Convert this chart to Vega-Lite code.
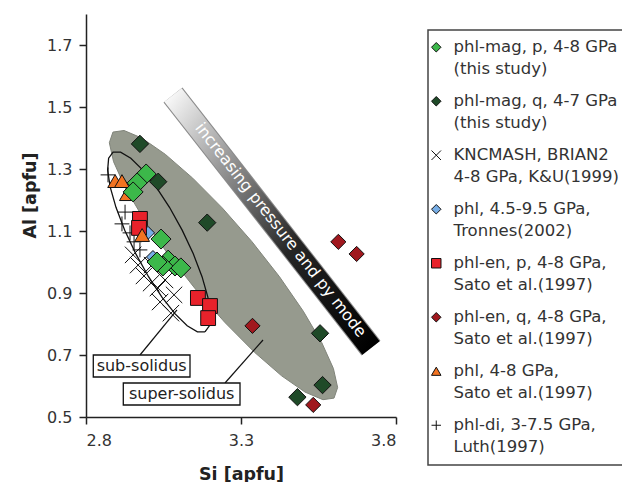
{
  "$schema": "https://vega.github.io/schema/vega-lite/v6.json",
  "width": 310,
  "height": 403,
  "autosize": {"type": "none"},
  "padding": {"left": 86, "top": 14, "right": 226, "bottom": 65},
  "background": "white",
  "datasets": {
    "gray": [
      {"i":0,"Si":3.6001,"Al":0.5609},{"i":1,"Si":3.6117,"Al":0.5952},{"i":2,"Si":3.5981,"Al":0.6564},{"i":3,"Si":3.5603,"Al":0.7403},
      {"i":4,"Si":3.5010,"Al":0.8412},{"i":5,"Si":3.4243,"Al":0.9523},{"i":6,"Si":3.3350,"Al":1.0660},{"i":7,"Si":3.2395,"Al":1.1745},
      {"i":8,"Si":3.1444,"Al":1.2704},{"i":9,"Si":3.0561,"Al":1.3471},{"i":10,"Si":2.9805,"Al":1.3996},{"i":11,"Si":2.9227,"Al":1.4242},
      {"i":12,"Si":2.8869,"Al":1.4191},{"i":13,"Si":2.8753,"Al":1.3848},{"i":14,"Si":2.8889,"Al":1.3236},{"i":15,"Si":2.9267,"Al":1.2397},
      {"i":16,"Si":2.9860,"Al":1.1388},{"i":17,"Si":3.0627,"Al":1.0277},{"i":18,"Si":3.1520,"Al":0.9140},{"i":19,"Si":3.2475,"Al":0.8055},
      {"i":20,"Si":3.3426,"Al":0.7096},{"i":21,"Si":3.4309,"Al":0.6329},{"i":22,"Si":3.5065,"Al":0.5804},{"i":23,"Si":3.5643,"Al":0.5558},
      {"i":24,"Si":3.6001,"Al":0.5609}
    ],
    "sub": [
      {"i":0,"Si":3.1837,"Al":0.7745},{"i":1,"Si":3.1980,"Al":0.7943},{"i":2,"Si":3.2012,"Al":0.8325},{"i":3,"Si":3.1931,"Al":0.8865},
      {"i":4,"Si":3.1743,"Al":0.9526},{"i":5,"Si":3.1461,"Al":1.0263},{"i":6,"Si":3.1102,"Al":1.1027},{"i":7,"Si":3.0693,"Al":1.1765},
      {"i":8,"Si":3.0261,"Al":1.2426},{"i":9,"Si":2.9835,"Al":1.2965},{"i":10,"Si":2.9446,"Al":1.3347},{"i":11,"Si":2.9116,"Al":1.3545},
      {"i":12,"Si":2.8873,"Al":1.3545},{"i":13,"Si":2.8730,"Al":1.3347},{"i":14,"Si":2.8698,"Al":1.2965},{"i":15,"Si":2.8779,"Al":1.2425},
      {"i":16,"Si":2.8967,"Al":1.1764},{"i":17,"Si":2.9249,"Al":1.1027},{"i":18,"Si":2.9608,"Al":1.0263},{"i":19,"Si":3.0017,"Al":0.9525},
      {"i":20,"Si":3.0449,"Al":0.8864},{"i":21,"Si":3.0875,"Al":0.8325},{"i":22,"Si":3.1264,"Al":0.7943},{"i":23,"Si":3.1594,"Al":0.7745},
      {"i":24,"Si":3.1837,"Al":0.7745}
    ],
    "bar": [{"i":0,"Si":3.0806,"Al":1.5387},{"i":1,"Si":3.7194,"Al":0.7226}],
    "leaders": [
      {"Si":2.9742,"Al":0.7,"Si2":3.0935,"Al2":0.8452},
      {"Si":3.2484,"Al":0.6097,"Si2":3.371,"Al2":0.7484}
    ],
    "boxes": [
      {"Si":2.8235,"Si2":3.1355,"Al":0.7,"Al2":0.629},
      {"Si":2.9203,"Si2":3.2968,"Al":0.6097,"Al2":0.5387}
    ],
    "labels": [
      {"Si":2.9796,"Al":0.6645,"text":"sub-solidus"},
      {"Si":3.1087,"Al":0.5742,"text":"super-solidus"}
    ],
    "bartext": [{"Si":3.428,"Al":1.103,"text":"increasing pressure and py mode"}],
    "pts": [
      {"series":"KNCMASH, BRIAN2|4-8 GPa, K&U(1999)","Si":2.952,"Al":1.023},
      {"series":"KNCMASH, BRIAN2|4-8 GPa, K&U(1999)","Si":2.968,"Al":0.990},
      {"series":"KNCMASH, BRIAN2|4-8 GPa, K&U(1999)","Si":2.987,"Al":0.955},
      {"series":"KNCMASH, BRIAN2|4-8 GPa, K&U(1999)","Si":3.010,"Al":0.932},
      {"series":"KNCMASH, BRIAN2|4-8 GPa, K&U(1999)","Si":3.032,"Al":0.916},
      {"series":"KNCMASH, BRIAN2|4-8 GPa, K&U(1999)","Si":3.055,"Al":0.942},
      {"series":"KNCMASH, BRIAN2|4-8 GPa, K&U(1999)","Si":3.039,"Al":0.871},
      {"series":"KNCMASH, BRIAN2|4-8 GPa, K&U(1999)","Si":3.074,"Al":0.835},
      {"series":"KNCMASH, BRIAN2|4-8 GPa, K&U(1999)","Si":3.084,"Al":0.894},
      {"series":"KNCMASH, BRIAN2|4-8 GPa, K&U(1999)","Si":3.013,"Al":0.990},
      {"series":"phl-di, 3-7.5 GPa,|Luth(1997)","Si":2.871,"Al":1.281},
      {"series":"phl-di, 3-7.5 GPa,|Luth(1997)","Si":2.926,"Al":1.161},
      {"series":"phl-di, 3-7.5 GPa,|Luth(1997)","Si":2.916,"Al":1.123},
      {"series":"phl-di, 3-7.5 GPa,|Luth(1997)","Si":2.942,"Al":1.094},
      {"series":"phl-di, 3-7.5 GPa,|Luth(1997)","Si":2.955,"Al":1.065},
      {"series":"phl-di, 3-7.5 GPa,|Luth(1997)","Si":2.974,"Al":1.039},
      {"series":"phl, 4.5-9.5 GPa,|Tronnes(2002)","Si":3.000,"Al":1.094},
      {"series":"phl, 4.5-9.5 GPa,|Tronnes(2002)","Si":3.016,"Al":1.016},
      {"series":"phl-en, p, 4-8 GPa,|Sato et al.(1997)","Si":2.974,"Al":1.139},
      {"series":"phl-en, p, 4-8 GPa,|Sato et al.(1997)","Si":2.971,"Al":1.110},
      {"series":"phl-en, p, 4-8 GPa,|Sato et al.(1997)","Si":3.161,"Al":0.884},
      {"series":"phl-en, p, 4-8 GPa,|Sato et al.(1997)","Si":3.200,"Al":0.858},
      {"series":"phl-en, p, 4-8 GPa,|Sato et al.(1997)","Si":3.194,"Al":0.819},
      {"series":"phl, 4-8 GPa,|Sato et al.(1997)","Si":2.894,"Al":1.261},
      {"series":"phl, 4-8 GPa,|Sato et al.(1997)","Si":2.916,"Al":1.261},
      {"series":"phl, 4-8 GPa,|Sato et al.(1997)","Si":2.932,"Al":1.219},
      {"series":"phl, 4-8 GPa,|Sato et al.(1997)","Si":2.981,"Al":1.087},
      {"series":"phl-en, q, 4-8 GPa,|Sato et al.(1997)","Si":3.337,"Al":0.794},
      {"series":"phl-en, q, 4-8 GPa,|Sato et al.(1997)","Si":3.614,"Al":1.065},
      {"series":"phl-en, q, 4-8 GPa,|Sato et al.(1997)","Si":3.673,"Al":1.026},
      {"series":"phl-en, q, 4-8 GPa,|Sato et al.(1997)","Si":3.533,"Al":0.539},
      {"series":"phl-mag, q, 4-7 GPa|(this study)","Si":2.974,"Al":1.381},
      {"series":"phl-mag, q, 4-7 GPa|(this study)","Si":3.033,"Al":1.259},
      {"series":"phl-mag, q, 4-7 GPa|(this study)","Si":3.191,"Al":1.127},
      {"series":"phl-mag, q, 4-7 GPa|(this study)","Si":3.555,"Al":0.770},
      {"series":"phl-mag, q, 4-7 GPa|(this study)","Si":3.563,"Al":0.603},
      {"series":"phl-mag, q, 4-7 GPa|(this study)","Si":3.482,"Al":0.564},
      {"series":"phl-mag, p, 4-8 GPa|(this study)","Si":2.994,"Al":1.284},
      {"series":"phl-mag, p, 4-8 GPa|(this study)","Si":2.965,"Al":1.255},
      {"series":"phl-mag, p, 4-8 GPa|(this study)","Si":2.952,"Al":1.226},
      {"series":"phl-mag, p, 4-8 GPa|(this study)","Si":3.042,"Al":1.074},
      {"series":"phl-mag, p, 4-8 GPa|(this study)","Si":3.065,"Al":1.006},
      {"series":"phl-mag, p, 4-8 GPa|(this study)","Si":3.087,"Al":0.987},
      {"series":"phl-mag, p, 4-8 GPa|(this study)","Si":3.106,"Al":0.981},
      {"series":"phl-mag, p, 4-8 GPa|(this study)","Si":3.048,"Al":0.987},
      {"series":"phl-mag, p, 4-8 GPa|(this study)","Si":3.029,"Al":1.000}
    ]
  },
  "encoding": {
    "x": {"field": "Si", "type": "quantitative",
      "scale": {"domain": [2.8, 3.8], "nice": false, "zero": false},
      "axis": {"title": "Si [apfu]", "values": [2.8, 3.3, 3.8], "format": ".1f", "labelPadding": 8, "titlePadding": 17}},
    "y": {"field": "Al", "type": "quantitative",
      "scale": {"domain": [0.5, 1.8], "nice": false, "zero": false},
      "axis": {"title": "Al [apfu]", "values": [0.5, 0.7, 0.9, 1.1, 1.3, 1.5, 1.7], "format": ".1f", "labelPadding": 7, "titlePadding": 7, "titleY": 181}}
  },
  "layer": [
    {
      "data": {"name": "gray"},
      "mark": {"type": "line", "fill": "#969a8e", "stroke": "#80847a", "strokeWidth": 1},
      "encoding": {"order": {"field": "i", "type": "quantitative"}}
    },
    {
      "data": {"name": "sub"},
      "mark": {"type": "line", "stroke": "#111", "strokeWidth": 1.3},
      "encoding": {"order": {"field": "i", "type": "quantitative"}}
    },
    {
      "data": {"name": "bar"},
      "mark": {"type": "line", "stroke": "#8a8a8a", "strokeWidth": 24, "strokeCap": "butt"},
      "encoding": {"order": {"field": "i", "type": "quantitative"}}
    },
    {
      "data": {"name": "bar"},
      "mark": {"type": "line", "strokeWidth": 22, "strokeCap": "butt",
        "stroke": {"gradient": "linear", "x1": 0, "y1": 0, "x2": 1, "y2": 1,
          "stops": [{"offset": 0, "color": "#f6f6f6"}, {"offset": 0.25, "color": "#9c9c9c"}, {"offset": 0.6, "color": "#262626"}, {"offset": 1, "color": "#000000"}]}},
      "encoding": {"order": {"field": "i", "type": "quantitative"}}
    },
    {
      "data": {"name": "bartext"},
      "mark": {"type": "text", "angle": 52, "color": "white", "fontSize": 16, "font": "DejaVu Sans", "align": "center", "baseline": "middle"},
      "encoding": {"text": {"field": "text"}}
    },
    {
      "data": {"name": "leaders"},
      "mark": {"type": "rule", "color": "#111", "strokeWidth": 1.2},
      "encoding": {"x2": {"field": "Si2"}, "y2": {"field": "Al2"}}
    },
    {
      "data": {"name": "boxes"},
      "mark": {"type": "rect", "fill": "white", "stroke": "#111", "strokeWidth": 1.3},
      "encoding": {"x2": {"field": "Si2"}, "y2": {"field": "Al2"}}
    },
    {
      "data": {"name": "labels"},
      "mark": {"type": "text", "color": "#222", "fontSize": 16, "font": "DejaVu Sans", "align": "center", "baseline": "middle"},
      "encoding": {"text": {"field": "text"}}
    },
    {
      "data": {"name": "pts"},
      "mark": {"type": "point", "filled": true, "opacity": 1, "stroke": "#111", "strokeWidth": 1},
      "encoding": {
        "color": {"field": "series", "type": "nominal",
          "scale": {
            "domain": ["phl-mag, p, 4-8 GPa|(this study)", "phl-mag, q, 4-7 GPa|(this study)", "KNCMASH, BRIAN2|4-8 GPa, K&U(1999)", "phl, 4.5-9.5 GPa,|Tronnes(2002)", "phl-en, p, 4-8 GPa,|Sato et al.(1997)", "phl-en, q, 4-8 GPa,|Sato et al.(1997)", "phl, 4-8 GPa,|Sato et al.(1997)", "phl-di, 3-7.5 GPa,|Luth(1997)"],
            "range": ["#3cb84a", "#1f4a28", "#111111", "#78aee6", "#e8222b", "#a0181e", "#f27321", "#111111"]},
          "legend": {"title": null, "orient": "none", "legendX": 342, "legendY": 16, "labelExpr": "split(datum.label, '|')"}},
        "shape": {"field": "series", "type": "nominal",
          "scale": {
            "domain": ["phl-mag, p, 4-8 GPa|(this study)", "phl-mag, q, 4-7 GPa|(this study)", "KNCMASH, BRIAN2|4-8 GPa, K&U(1999)", "phl, 4.5-9.5 GPa,|Tronnes(2002)", "phl-en, p, 4-8 GPa,|Sato et al.(1997)", "phl-en, q, 4-8 GPa,|Sato et al.(1997)", "phl, 4-8 GPa,|Sato et al.(1997)", "phl-di, 3-7.5 GPa,|Luth(1997)"],
            "range": ["diamond", "diamond", "M-1,-1L1,1M-1,1L1,-1", "diamond", "square", "diamond", "triangle-up", "M-1,0L1,0M0,-1L0,1"]},
          "legend": {"title": null, "orient": "none", "legendX": 342, "legendY": 16, "labelExpr": "split(datum.label, '|')"}},
        "size": {
          "condition": [
            {"test": "datum.series == 'phl-mag, p, 4-8 GPa|(this study)'", "value": 400},
            {"test": "datum.series == 'phl-mag, q, 4-7 GPa|(this study)'", "value": 300},
            {"test": "datum.series == 'KNCMASH, BRIAN2|4-8 GPa, K&U(1999)'", "value": 270},
            {"test": "datum.series == 'phl, 4.5-9.5 GPa,|Tronnes(2002)'", "value": 170},
            {"test": "datum.series == 'phl-en, q, 4-8 GPa,|Sato et al.(1997)'", "value": 230}
          ],
          "value": 220}
      }
    }
  ],
  "config": {
    "view": {"stroke": null},
    "style": {"guide-label": {"lineHeight": 22}},
    "axis": {"grid": false, "domainColor": "#222", "domainWidth": 1.5, "tickColor": "#222", "tickWidth": 1.5, "tickSize": 7,
      "labelFont": "DejaVu Sans", "labelFontSize": 16, "labelColor": "#333",
      "titleFont": "DejaVu Sans", "titleFontSize": 17.5, "titleFontWeight": "bold", "titleColor": "#222"},
    "legend": {"labelFont": "DejaVu Sans", "labelFontSize": 16.5, "labelColor": "#333", "labelLimit": 400,
      "symbolSize": 90, "symbolStrokeColor": "#111", "symbolStrokeWidth": 1, "rowPadding": 15, "padding": 9, "symbolOffset": -9,
      "strokeColor": "#444", "strokeWidth": 1.5, "labelOffset": 9}
  }
}
